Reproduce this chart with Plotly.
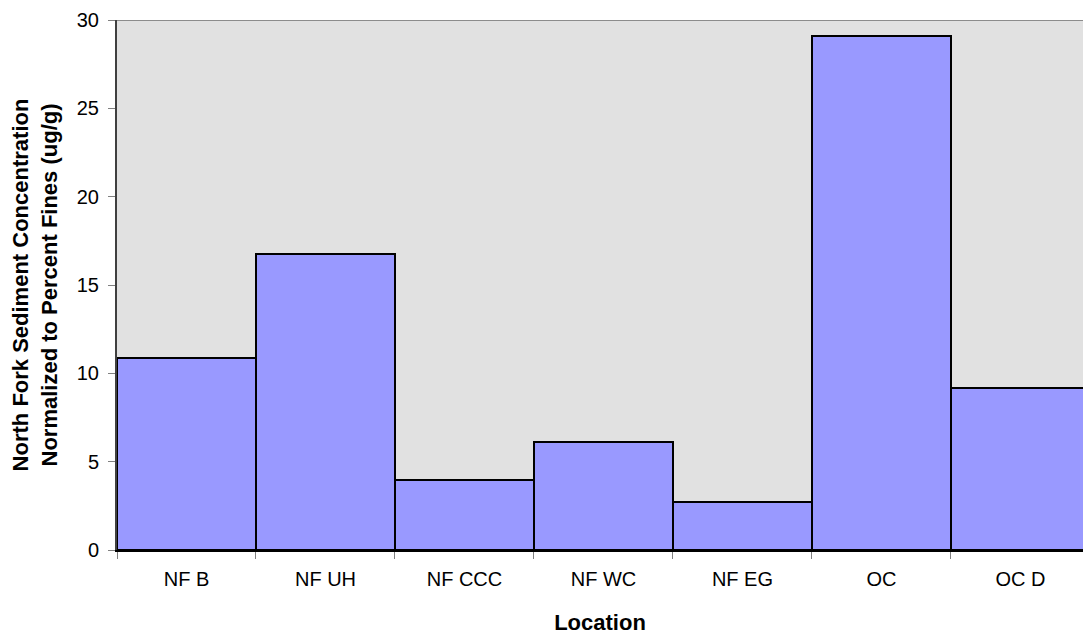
import plotly.graph_objects as go

categories = ["NF B", "NF UH", "NF CCC", "NF WC", "NF EG", "OC", "OC D"]
values = [10.87, 16.75, 3.96, 6.11, 2.73, 29.08, 9.17]
y_ticks = [0, 5, 10, 15, 20, 25, 30]

FONT = "Arial, 'Liberation Sans', sans-serif"

fig = go.Figure()
fig.add_trace(go.Bar(
    x=categories, y=values,
    marker=dict(color="#9999FF", line=dict(color="#000000", width=2)),
    width=1.0,
))

fig.update_layout(
    width=1083, height=638,
    margin=dict(l=117, r=0, t=20, b=88),
    paper_bgcolor="white",
    plot_bgcolor="#E1E1E1",
    bargap=0,
    showlegend=False,
    font=dict(family=FONT, size=20, color="#000000"),
    xaxis=dict(
        range=[-0.5, 6.45],
        showgrid=False,
        ticks="outside", tickson="boundaries", ticklen=7, tickcolor="#808080",
        showline=True, linecolor="#000000", linewidth=2,
        tickfont=dict(size=20), ticklabelstandoff=10,
        title=dict(text="<b>Location</b>", font=dict(size=22), standoff=26),
    ),
    yaxis=dict(
        range=[0, 30], tickvals=y_ticks,
        showgrid=False, zeroline=False,
        ticks="outside", ticklen=7, tickcolor="#808080",
        showline=True, linecolor="#404040", linewidth=2,
        tickfont=dict(size=20), ticklabelstandoff=5,
        title=dict(text="<b>North Fork Sediment Concentration<br>Normalized to Percent Fines (ug/g)</b>",
                   font=dict(size=22), standoff=13),
    ),
    shapes=[dict(type="line", xref="paper", yref="y", x0=0, x1=1, y0=30, y1=30,
                 line=dict(color="#8C8C8C", width=2), layer="above")],
)

fig.write_html("out.html", config={"displayModeBar": False},
               post_script="document.body.style.margin='0';document.body.style.padding='0';")
